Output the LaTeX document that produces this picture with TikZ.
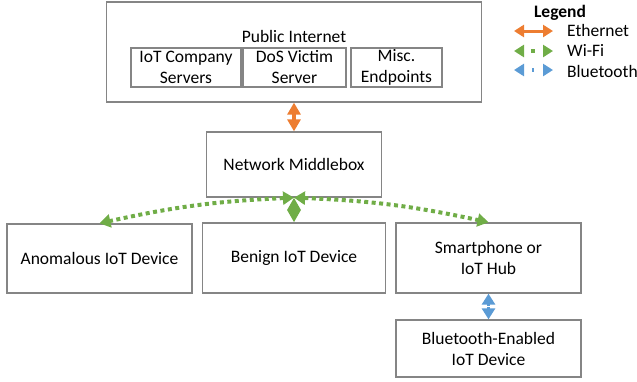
\documentclass[tikz,border=0pt]{standalone}
\usepackage{fontspec}
\setmainfont{Carlito}
\usetikzlibrary{arrows.meta}
\definecolor{ethcol}{HTML}{ED7D31}
\definecolor{wificol}{HTML}{70AD47}
\definecolor{btcol}{HTML}{5B9BD5}
\definecolor{boxline}{HTML}{858585}

\begin{document}
\begin{tikzpicture}[x=1pt,y=-1pt,
  font=\fontsize{17.5}{21}\selectfont,
  box/.style={draw=boxline, line width=1.3pt, inner sep=0pt, align=center},
  label text/.style={inner sep=0pt, align=center},
  ethline/.style={ethcol, line width=4pt,
    {Triangle[length=12pt,width=13pt]}-{Triangle[length=12pt,width=13pt]}},
  wifiline/.style={wificol, line width=4pt, dash pattern=on 4pt off 3.5pt,
    {Triangle[length=11pt,width=13pt]}-{Triangle[length=11pt,width=13pt]}},
  wifishort/.style={wificol, line width=4pt,
    {Triangle[length=12.5pt,width=13pt]}-{Triangle[length=12.5pt,width=13pt]}},
  btline/.style={btcol, line width=3.5pt, dash pattern=on 2pt off 1.5pt,
    {Triangle[length=11pt,width=13pt]}-{Triangle[length=11pt,width=13pt]}},
  legeth/.style={ethcol, line width=3pt,
    {Triangle[length=10pt,width=12pt]}-{Triangle[length=10pt,width=12pt]}},
  legwifi/.style={wificol, line width=4pt, dash pattern=on 4pt off 20pt, dash phase=16.5pt,
    {Triangle[length=10pt,width=12pt]}-{Triangle[length=10pt,width=12pt]}},
  legbt/.style={btcol, line width=3.5pt, dash pattern=on 2pt off 20pt, dash phase=13pt,
    {Triangle[length=10pt,width=12pt]}-{Triangle[length=10pt,width=12pt]}},
]
\useasboundingbox (0,0) rectangle (637,381);

% Public Internet and its endpoints
\node[box, minimum width=375pt, minimum height=100pt] (pub) at (294,52) {};
\node[label text] (pubtitle) at (294,36) {Public Internet};
\node[box, minimum width=110pt, minimum height=39pt] (iotsrv) at (186,67.5) {IoT Company\\Servers};
\node[box, minimum width=103pt, minimum height=39pt] (dos) at (294.5,67.5) {DoS Victim\\Server};
\node[box, minimum width=91pt, minimum height=39pt] (misc) at (396.5,67.5) {Misc.\\Endpoints};

% Middlebox
\node[box, minimum width=175pt, minimum height=65pt] (mid) at (294,164.5) {Network Middlebox};

% Devices
\node[box, minimum width=185pt, minimum height=69pt] (anom) at (99.5,258.5) {Anomalous IoT Device};
\node[box, minimum width=183pt, minimum height=70pt] (benign) at (294,258) {Benign IoT Device};
\node[box, minimum width=185pt, minimum height=70pt] (phone) at (488.5,258) {Smartphone or\\IoT Hub};
\node[box, minimum width=185pt, minimum height=57pt] (btdev) at (488.5,348.5) {Bluetooth-Enabled\\IoT Device};

% Links
\draw[ethline] (pub.south) -- (mid.north);
\draw[wifiline] (mid.south) to[bend right=5] (anom.north);
\draw[wifishort] (mid.south) -- (benign.north);
\draw[wifiline] (mid.south) to[bend left=5] (phone.north);
\draw[btline] (phone.south) -- (btdev.north);

% Legend
\node[label text, font=\fontsize{17.5}{21}\selectfont\bfseries] (legtitle) at (560,13) {Legend};
\coordinate (le1) at (514,31);
\coordinate (le2) at (553,31);
\coordinate (lw1) at (514,51);
\coordinate (lw2) at (553,51);
\coordinate (lb1) at (514,70);
\coordinate (lb2) at (553,70);
\draw[legeth] (le1) -- (le2);
\draw[legwifi] (lw1) -- (lw2);
\draw[legbt] (lb1) -- (lb2);
\node[label text, anchor=west] (legethtext) at (567,30) {Ethernet};
\node[label text, anchor=west] (legwifitext) at (567,50) {Wi-Fi};
\node[label text, anchor=west] (legbttext) at (567,71) {Bluetooth};
\end{tikzpicture}
\end{document}
